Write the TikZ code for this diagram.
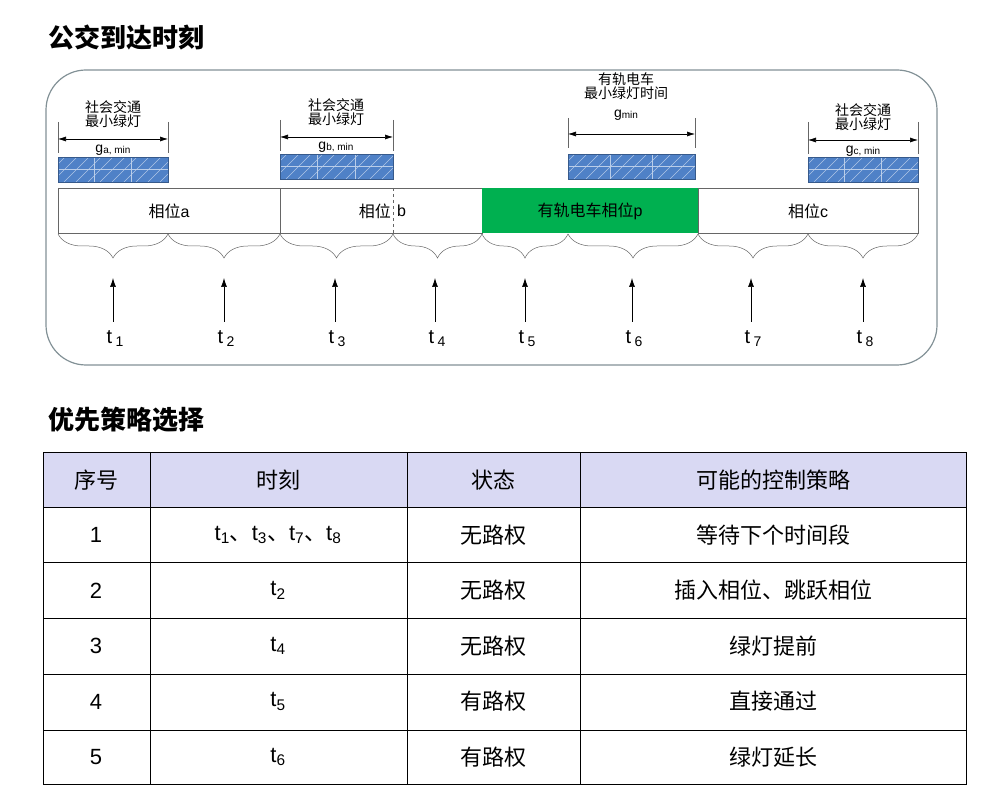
\documentclass[tikz,border=0pt]{standalone}
\usepackage{fontspec}
\setmainfont{Liberation Sans}
\newfontfamily\cjk{Noto Sans CJK SC}
\usetikzlibrary{decorations.pathreplacing,arrows.meta}
\definecolor{bluebox}{RGB}{79,129,199}
\definecolor{tramgreen}{RGB}{0,176,80}
\definecolor{hdr}{RGB}{217,217,243}
\definecolor{frame}{RGB}{130,145,150}
\newcommand{\fs}[1]{\fontsize{#1}{#1}\selectfont}
\begin{document}
\begin{tikzpicture}[x=1pt,y=-1pt,
  phase/.style={draw=black!60,line width=0.6pt},
  brc/.style={draw=black!60,decorate,decoration={brace,mirror,amplitude=24pt,aspect=0.5},line width=0.5pt},
  arr/.style={-{Latex[length=9pt,width=6pt]},line width=0.7pt},
  dim/.style={{Latex[length=8pt,width=5pt]}-{Latex[length=8pt,width=5pt]},line width=0.6pt},
  lbl/.style={font=\cjk\fs{14},align=center,inner sep=0pt},
  tl/.style={font=\fs{20},inner sep=0pt},
  cell/.style={font=\cjk\fs{22},inner sep=0pt}]
\useasboundingbox (0,0) rectangle (986,802);
\node[anchor=west,font=\cjk\bfseries\fs{26}] (t1) at (45,38) {公交到达时刻};
\node[anchor=west,font=\cjk\bfseries\fs{26}] (t2) at (45,420) {优先策略选择};
\draw[frame,line width=1.2pt,rounded corners=40pt] (46,70) rectangle (937,365);
% min green boxes
\foreach \a/\b/\t in {58/168/157,280/393/154,568/695/154,808/918/157}{
  \fill[bluebox] (\a,\t) rectangle (\b,\t+25);
  \begin{scope}
    \clip (\a,\t) rectangle (\b,\t+25);
    \foreach \k in {0,12,...,150} \draw[white!55!bluebox,line width=0.5pt] (\a+\k-30,\t+25) -- (\a+\k-5,\t);
  \end{scope}
  \draw[white!60!bluebox,line width=0.4pt] (\a,\t+12) -- (\b,\t+12);
  \draw[white!60!bluebox,line width=0.4pt] ({\a+(\b-\a)/3},\t) -- ({\a+(\b-\a)/3},\t+25) ({\a+2*(\b-\a)/3},\t) -- ({\a+2*(\b-\a)/3},\t+25);
  \draw[bluebox!70!black,line width=0.5pt] (\a,\t) rectangle (\b,\t+25);
}
% dimension lines
\foreach \a/\b/\y/\top in {58/168/139/122,280/393/137/120,568/695/134/118,808/918/140/122}{
  \draw[black!60,line width=0.4pt] (\a,\top) -- (\a,\y+14) (\b,\top) -- (\b,\y+14);
  \draw[dim] (\a,\y) -- (\b,\y);
}
\node[lbl] (la) at (113,114) {社会交通\\最小绿灯};
\node[lbl] (lb) at (336,112) {社会交通\\最小绿灯};
\node[lbl] (lp) at (626,86) {有轨电车\\最小绿灯时间};
\node[lbl] (lc) at (863,117) {社会交通\\最小绿灯};
\node[font=\fs{14},inner sep=0pt] (ga) at (113,150) {g\fs{10}\raisebox{-1pt}{a, min}};
\node[font=\fs{14},inner sep=0pt] (gb) at (336,147) {g\fs{10}\raisebox{-1pt}{b, min}};
\node[font=\fs{14},inner sep=0pt] (gp) at (626,115) {g\fs{10}\raisebox{-1pt}{min}};
\node[font=\fs{14},inner sep=0pt] (gc) at (863,151) {g\fs{10}\raisebox{-1pt}{c, min}};
% phases
\draw[phase] (58,188) rectangle (280,233);
\draw[phase] (280,188) rectangle (482,233);
\fill[tramgreen] (482,188) rectangle (698,233);
\draw[phase] (698,188) rectangle (918,233);
\draw[black!60,dashed,line width=0.4pt] (393,188) -- (393,233);
\node[font=\cjk\fs{16},inner sep=0pt] (pa) at (169,211) {相位\fontspec{Liberation Sans}a};
\node[font=\cjk\fs{16},inner sep=0pt,anchor=east] (pb) at (391,211) {相位};
\node[font=\fs{16},inner sep=0pt,anchor=west] (pb2) at (397,211) {b};
\node[font=\cjk\fs{16},inner sep=0pt] (pp) at (590,211) {有轨电车相位\fontspec{Liberation Sans}p};
\node[font=\cjk\fs{16},inner sep=0pt] (pc) at (808,211) {相位\fontspec{Liberation Sans}c};
% braces
\foreach \a/\b in {58/168,168/280,280/393,393/482,482/568,568/698,698/808,808/918}
  \draw[brc] (\a,234) -- (\b,234);
% arrows and labels
\foreach \x/\n in {113/1,224/2,335/3,435/4,525/5,632/6,751/7,863/8}{
  \coordinate (b\n) at (\x,322);
  \coordinate (e\n) at (\x,278);
  \draw[arr] (b\n) -- (e\n);
  \node[tl] (tt\n) at (\x+2,339) {t\,\fs{14}\raisebox{-3pt}{\n}};
}
% table
\fill[hdr] (43,452) rectangle (966,507);
\draw[line width=1pt] (43,452) rectangle (966,784);
\foreach \y in {507,562,618,674,730} \draw[line width=1pt] (43,\y) -- (966,\y);
\foreach \x in {150,407,580} \draw[line width=1pt] (\x,452) -- (\x,784);
\node[cell] (h1) at (96,480) {序号};
\node[cell] (h2) at (278,480) {时刻};
\node[cell] (h3) at (493,480) {状态};
\node[cell] (h4) at (773,480) {可能的控制策略};
\newcommand{\tsub}[1]{t\textsubscript{#1}}
\foreach \n/\t/\s/\p [count=\i] in {1/{\tsub1{\cjk 、}\tsub3{\cjk 、}\tsub7{\cjk 、}\tsub8}/无路权/等待下个时间段,
  2/\tsub2/无路权/插入相位、跳跃相位,3/\tsub4/无路权/绿灯提前,4/\tsub5/有路权/直接通过,5/\tsub6/有路权/绿灯延长}{
  \pgfmathsetmacro\yy{535+55.5*(\i-1)}
  \node[cell,font=\fs{22}] (n\i) at (96,\yy) {\n};
  \node[cell,font=\fs{22}] (m\i) at (278,\yy) {\t};
  \node[cell] (s\i) at (493,\yy) {\s};
  \node[cell] (p\i) at (773,\yy) {\p};
}
\end{tikzpicture}
\end{document}
